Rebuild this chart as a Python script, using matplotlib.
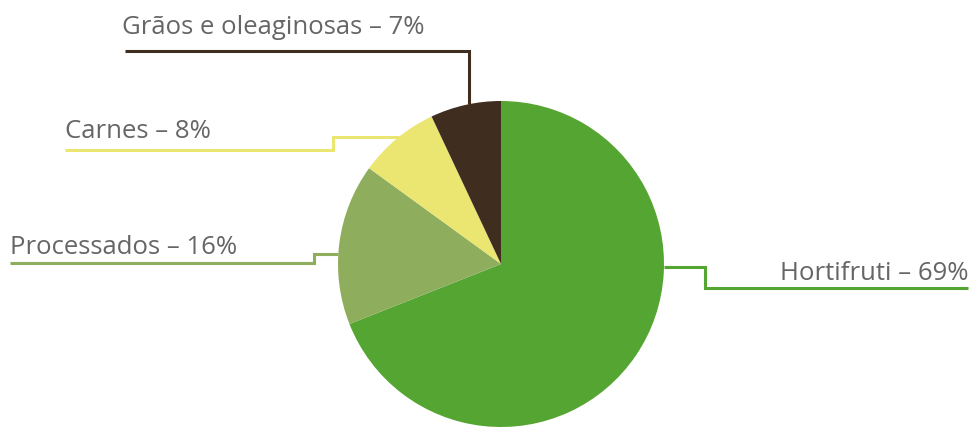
import numpy as np
import matplotlib.pyplot as plt

# Share of each product group
categories = ['Hortifruti', 'Processados', 'Carnes', 'Grãos e oleaginosas']
shares = [69, 16, 8, 7]
colors = ['#55a532', '#8fae5d', '#ebe571', '#3f2e1f']

W, H = 973, 428
text_color = '#666666'

fig = plt.figure(figsize=(W / 100, H / 100), dpi=100)
ax = fig.add_axes([0, 0, 1, 1])

cx, cy, r = 501, H - 264, 163
wedges, _ = ax.pie(shares, colors=colors, startangle=90, counterclock=False,
                   center=(cx, cy), radius=r, frame=True,
                   wedgeprops=dict(linewidth=0))
ax.set_xlim(0, W)
ax.set_ylim(0, H)
ax.set_aspect('equal')
ax.axis('off')

# leader routes: angle where the line leaves the pie, then the elbow path
# (pixel-space, y measured from the top), then label anchor
routes = {
    'Hortifruti': dict(angle=-1.0, path=[(705, None), (705, 288), (968, 288)],
                       text=(968, 280), ha='right'),
    'Processados': dict(angle=176.5, path=[(314, None), (314, 263), (10, 263)],
                        text=(10, 254), ha='left'),
    'Carnes': dict(angle=128.8, path=[(333, None), (333, 150), (65, 150)],
                   text=(65, 138), ha='left'),
    'Grãos e oleaginosas': dict(angle=101.5,
                                path=[(None, 51), (125, 51)],
                                text=(122, 34), ha='left'),
}

for name, share, color in zip(categories, shares, colors):
    rt = routes[name]
    a = np.deg2rad(rt['angle'])
    sx, sy = cx + r * np.cos(a), cy + r * np.sin(a)
    xs, ys = [sx], [sy]
    for px, py in rt['path']:
        xs.append(sx if px is None else px)
        ys.append(sy if py is None else H - py)
    ax.plot(xs, ys, color=color, lw=2.2, solid_joinstyle='miter',
            solid_capstyle='butt', zorder=0)
    tx, ty = rt['text']
    ax.text(tx, H - ty, f'{name} – {share}%', ha=rt['ha'], va='baseline',
            fontsize=18.5, color=text_color, family=['Open Sans', 'DejaVu Sans'])

fig.savefig('out.png', dpi=100)
